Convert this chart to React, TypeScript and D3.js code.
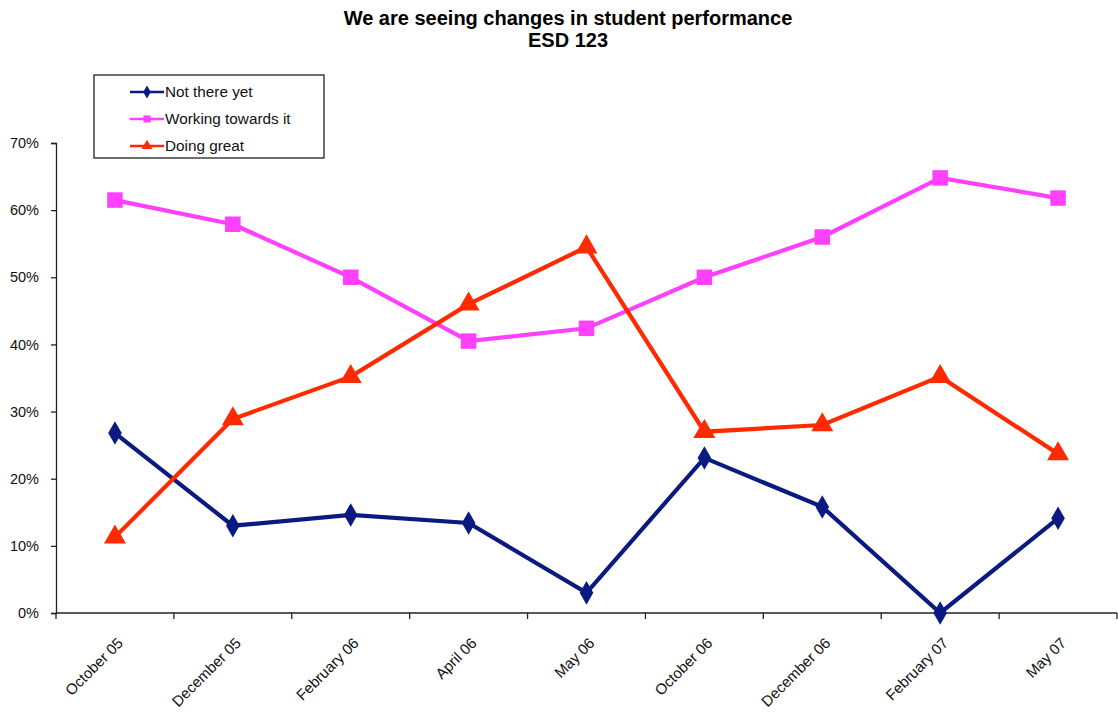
import React, { useEffect, useRef } from 'react';
import * as d3 from 'd3';

const categories = ['October 05', 'December 05', 'February 06', 'April 06', 'May 06', 'October 06', 'December 06', 'February 07', 'May 07'];
const notThereYet = [26.8, 13.0, 14.6, 13.4, 3.0, 23.1, 15.8, 0, 14.1];
const workingTowards = [61.5, 57.9, 50.0, 40.5, 42.4, 50.0, 56.0, 64.8, 61.8];
const doingGreat = [11.3, 28.9, 35.2, 46.0, 54.5, 27.0, 28.0, 35.2, 23.7];
const yTicks = [0, 10, 20, 30, 40, 50, 60, 70];

const seriesNames = ['Not there yet', 'Working towards it', 'Doing great'];
const seriesColors = ['#0a1a80', '#ff40ff', '#ff2a00'];
const seriesSymbols = [d3.symbolDiamond, d3.symbolSquare, d3.symbolTriangle];

export default function App() {
  const svgRef = useRef<SVGSVGElement | null>(null);

  useEffect(() => {
    if (!svgRef.current) return;
    const width = 1118;
    const height = 717;
    const margin = { top: 143, right: 1, bottom: 104, left: 56 };

    const svg = d3.select(svgRef.current);
    svg.selectAll('*').remove();
    svg.attr('width', width).attr('height', height).style('font-family', 'Liberation Sans, Arial, sans-serif');

    svg.append('rect').attr('width', width).attr('height', height).attr('fill', '#fff');

    const x = d3.scaleBand<string>().domain(categories).range([margin.left, width - margin.right]);
    const y = d3.scaleLinear().domain([0, 70]).range([height - margin.bottom, margin.top]);

    // title
    const title = svg.append('text')
      .attr('x', 568).attr('y', 25)
      .attr('text-anchor', 'middle')
      .style('font-size', '20px').style('font-weight', 'bold');
    title.append('tspan').attr('x', 568).text('We are seeing changes in student performance');
    title.append('tspan').attr('x', 568).attr('dy', 22).text('ESD 123');

    // y axis
    const yAxis = svg.append('g').attr('transform', `translate(${margin.left},0)`)
      .call(d3.axisLeft(y).tickValues(yTicks).tickSize(5).tickFormat(d => `${d}%`));
    yAxis.select('.domain').attr('stroke', '#222').attr('stroke-width', 1.3);
    yAxis.selectAll('.tick line').attr('stroke', '#222').attr('stroke-width', 1.3);
    yAxis.selectAll('.tick text').attr('x', -17).style('font-size', '14.5px').attr('fill', '#111').style('font-family', 'Liberation Sans, Arial, sans-serif');

    // x axis
    const x0 = y(0);
    const xAxis = svg.append('g').attr('transform', `translate(0,${x0})`);
    xAxis.append('line').attr('x1', margin.left).attr('x2', width - margin.right)
      .attr('stroke', '#222').attr('stroke-width', 1.3);
    const bounds = categories.map(c => x(c)!).concat([width - margin.right]);
    xAxis.selectAll('line.tk').data(bounds).enter().append('line').attr('class', 'tk')
      .attr('x1', d => d).attr('x2', d => d).attr('y1', 0).attr('y2', 6)
      .attr('stroke', '#222').attr('stroke-width', 1.3);
    xAxis.selectAll('text.lbl').data(categories).enter().append('text').attr('class', 'lbl')
      .attr('transform', d => `translate(${x(d)! + x.bandwidth() / 2 + 9},${31}) rotate(-45)`)
      .attr('text-anchor', 'end')
      .style('font-size', '15px').attr('fill', '#111')
      .text(d => d);

    const all = [notThereYet, workingTowards, doingGreat];
    const line = d3.line<number>()
      .x((_, i) => x(categories[i])! + x.bandwidth() / 2)
      .y(d => y(d));

    const symSizes = [160, 240, 210];
    all.forEach((vals, si) => {
      svg.append('path').datum(vals).attr('d', line)
        .attr('fill', 'none').attr('stroke', seriesColors[si]).attr('stroke-width', 4.2);
      svg.selectAll(`path.m${si}`).data(vals).enter().append('path').attr('class', `m${si}`)
        .attr('transform', (d, i) => `translate(${x(categories[i])! + x.bandwidth() / 2},${y(d)})`)
        .attr('d', d3.symbol().type(seriesSymbols[si]).size(symSizes[si])())
        .attr('fill', seriesColors[si]);
    });

    // legend
    const lg = svg.append('g').attr('transform', 'translate(94,75)');
    lg.append('rect').attr('width', 230).attr('height', 83).attr('fill', '#fff')
      .attr('stroke', '#222').attr('stroke-width', 1.3);
    seriesNames.forEach((name, i) => {
      const cy = 17 + i * 27;
      lg.append('line').attr('x1', 36).attr('x2', 70).attr('y1', cy).attr('y2', cy)
        .attr('stroke', seriesColors[i]).attr('stroke-width', 2.5);
      lg.append('path').attr('transform', `translate(53,${cy})`)
        .attr('d', d3.symbol().type(seriesSymbols[i]).size(50)())
        .attr('fill', seriesColors[i]);
      lg.append('text').attr('x', 71).attr('y', cy).attr('dy', '0.35em')
        .style('font-size', '15.3px').attr('fill', '#111').text(name);
    });
  }, []);

  return <svg ref={svgRef} style={{ display: 'block', position: 'absolute', left: 0, top: 0 }}></svg>;
}
